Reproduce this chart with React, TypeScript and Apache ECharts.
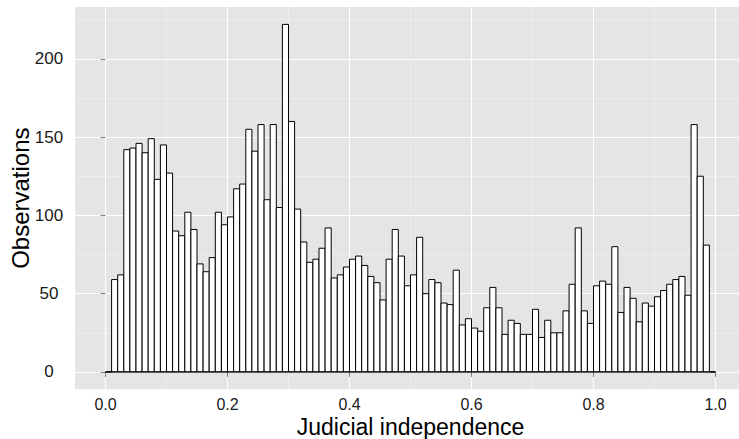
import React, { useEffect, useRef } from "react";
import * as echarts from "echarts";

// Histogram of judicial independence: 100 bins of width 0.01 from 0 to 1
const binStart = 0;
const binWidth = 0.01;
const counts = [
  0, 59, 62, 142, 143, 146, 140, 149, 123, 145,
  127, 90, 87, 102, 91, 69, 64, 73, 102, 94,
  99, 117, 120, 155, 141, 158, 110, 158, 105, 222,
  160, 104, 83, 70, 72, 79, 92, 60, 62, 67,
  72, 74, 68, 61, 57, 46, 72, 91, 74, 55,
  62, 86, 50, 59, 57, 44, 43, 65, 30, 34,
  28, 26, 41, 54, 41, 24, 33, 31, 24, 24,
  40, 22, 33, 25, 25, 39, 56, 92, 39, 31,
  55, 58, 56, 80, 38, 54, 47, 32, 44, 42,
  48, 52, 56, 59, 61, 49, 158, 125, 81, 0,
];
const xTicks = [0, 0.2, 0.4, 0.6, 0.8, 1.0];
const yTicks = [0, 50, 100, 150, 200];
const xTitle = "Judicial independence";
const yTitle = "Observations";

const FONT = "'Liberation Sans', Arial, Helvetica, sans-serif";

export default function App() {
  const ref = useRef<HTMLDivElement>(null);
  useEffect(() => {
    if (!ref.current) return;
    const chart = echarts.init(ref.current, undefined, { renderer: "svg" });
    const bins = counts.map((c, i) => [
      binStart + i * binWidth,
      binStart + (i + 1) * binWidth,
      c,
    ]);
    const xMin = binStart - 0.05;
    const xMax = binStart + counts.length * binWidth + 0.05;
    const maxC = Math.max(...counts);
    const yMin = -0.05 * maxC;
    const yMax = maxC * 1.05;
    chart.setOption({
      animation: false,
      grid: {
        left: 75,
        top: 7,
        right: -7,
        bottom: 49.7,
        show: true,
        backgroundColor: "#E5E5E5",
        borderWidth: 0,
        outerBoundsMode: "none",
        containLabel: false,
      },
      xAxis: {
        type: "value",
        min: xMin,
        max: xMax,
        name: xTitle,
        nameLocation: "middle",
        nameGap: 26,
        nameMoveOverlap: false,
        nameTextStyle: { fontSize: 23, color: "#000", fontFamily: FONT },
        axisLine: { show: false },
        axisTick: {
          show: true,
          length: 5,
          customValues: xTicks,
          lineStyle: { color: "#808080", width: 1 },
        },
        axisLabel: {
          customValues: xTicks,
          margin: 7,
          fontSize: 16,
          color: "#1a1a1a",
          fontFamily: FONT,
          formatter: (v: number) => v.toFixed(1),
        },
        splitLine: { show: true, lineStyle: { color: "#FFFFFF", width: 1.1 } },
        minorTick: { show: false, splitNumber: 2 },
        minorSplitLine: { show: true, lineStyle: { color: "#F2F2F2", width: 0.6 } },
      },
      yAxis: {
        type: "value",
        min: yMin,
        max: yMax,
        name: yTitle,
        nameLocation: "middle",
        nameGap: 43,
        nameMoveOverlap: false,
        nameTextStyle: { fontSize: 24, color: "#000", fontFamily: FONT },
        axisLine: { show: false },
        axisTick: {
          show: true,
          length: 5,
          customValues: yTicks,
          lineStyle: { color: "#808080", width: 1 },
        },
        axisLabel: {
          customValues: yTicks,
          margin: 26,
          align: "center",
          fontSize: 17,
          color: "#1a1a1a",
          fontFamily: FONT,
        },
        splitLine: { show: true, lineStyle: { color: "#FFFFFF", width: 1.1 } },
        minorTick: { show: false, splitNumber: 2 },
        minorSplitLine: { show: true, lineStyle: { color: "#F2F2F2", width: 0.6 } },
      },
      series: [
        {
          type: "custom",
          data: bins,
          encode: { x: [0, 1], y: 2 },
          renderItem: (params: any, api: any) => {
            const p0 = api.coord([api.value(0), api.value(2)]);
            const p1 = api.coord([api.value(1), 0]);
            return {
              type: "rect",
              shape: {
                x: p0[0],
                y: p0[1],
                width: p1[0] - p0[0],
                height: p1[1] - p0[1],
              },
              style: { fill: "#FFFFFF", stroke: "#000000", lineWidth: 1 },
            };
          },
        },
        {
          type: "line",
          data: [
            [binStart, 0],
            [binStart + counts.length * binWidth, 0],
          ],
          symbol: "none",
          lineStyle: { color: "#000000", width: 1 },
          z: 3,
        },
      ],
    });
    return () => chart.dispose();
  }, []);
  return (
    <div
      ref={ref}
      style={{ position: "absolute", left: 0, top: 0, width: 739, height: 439 }}
    />
  );
}
